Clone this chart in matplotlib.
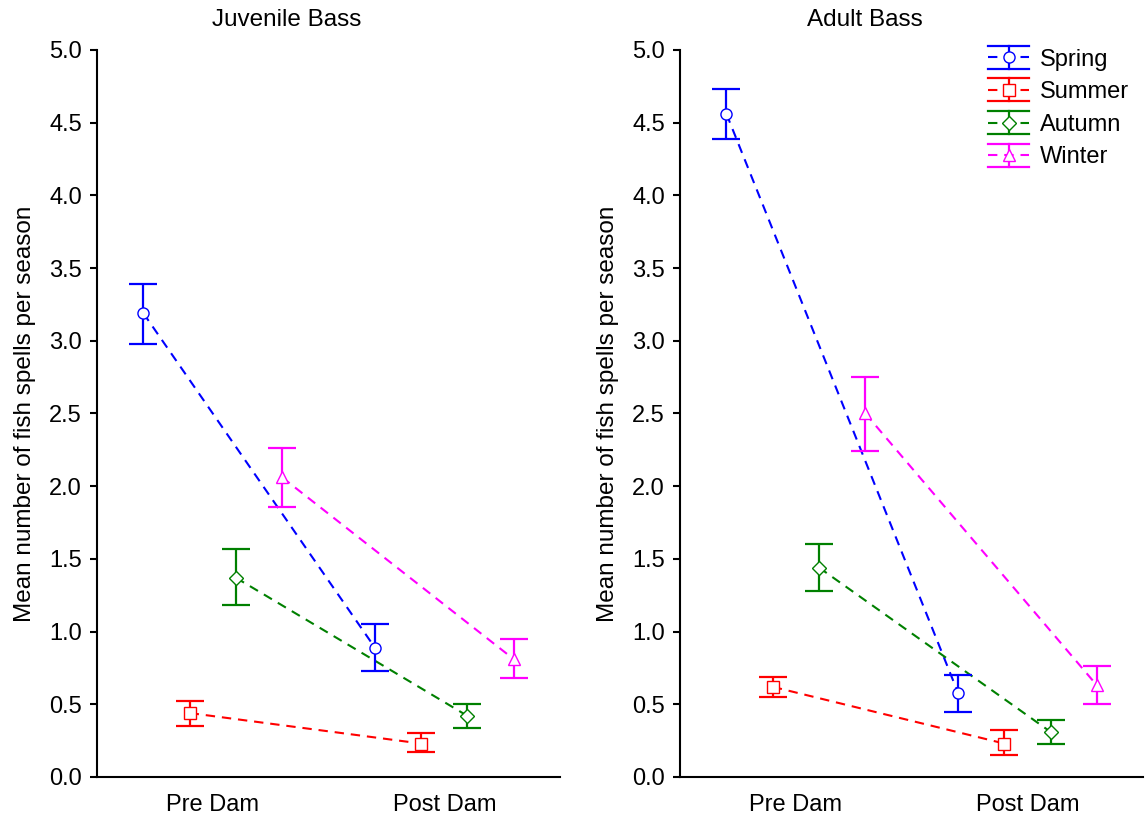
"""Mean number of fish spells per season, pre vs post dam, juvenile and adult bass."""
import matplotlib
matplotlib.use("Agg")
import matplotlib.pyplot as plt
from matplotlib.legend_handler import HandlerBase
from matplotlib.lines import Line2D
import numpy as np

plt.rcParams["font.family"] = ["Liberation Sans", "DejaVu Sans"]

periods = ["Pre Dam", "Post Dam"]
seasons = ["Spring", "Summer", "Autumn", "Winter"]
colors = ["#0000FF", "#FF0000", "#008000", "#FF00FF"]
markers = ["o", "s", "D", "^"]

# mean, lower and upper bound of error bars: [Pre, Post] per season
juv_mean = [[3.19, 0.89], [0.44, 0.23], [1.37, 0.42], [2.06, 0.81]]
juv_low = [[2.98, 0.73], [0.35, 0.17], [1.18, 0.34], [1.86, 0.68]]
juv_high = [[3.39, 1.05], [0.52, 0.30], [1.57, 0.50], [2.26, 0.95]]

adu_mean = [[4.56, 0.58], [0.62, 0.23], [1.44, 0.31], [2.50, 0.63]]
adu_low = [[4.39, 0.45], [0.55, 0.15], [1.28, 0.23], [2.24, 0.50]]
adu_high = [[4.73, 0.70], [0.69, 0.32], [1.60, 0.39], [2.75, 0.76]]

offsets = [-0.3, -0.1, 0.1, 0.3]
DASH = (0, (4.5, 3.3))


def msize(m):
    return 7 if m == "D" else 8


class ErrbarHandler(HandlerBase):
    """Legend key like the original: full-width caps, vertical bar, dashed line, open marker."""

    def create_artists(self, legend, orig, xdescent, ydescent, width, height,
                       fontsize, trans):
        c = orig.get_markeredgecolor()
        cy = height / 2 - ydescent
        half = 8.3
        x0, x1 = -xdescent, width - xdescent
        xm = (x0 + x1) / 2
        arts = [
            Line2D([x0, x1], [cy, cy], color=c, lw=1.5, ls=DASH),
            Line2D([x0, x1], [cy + half] * 2, color=c, lw=1.6),
            Line2D([x0, x1], [cy - half] * 2, color=c, lw=1.6),
            Line2D([xm, xm], [cy - half, cy + half], color=c, lw=1.6),
            Line2D([xm], [cy], ls="none", marker=orig.get_marker(),
                   ms=orig.get_markersize(), mfc="white", mec=c, mew=1.0),
        ]
        for a in arts:
            a.set_transform(trans)
        return arts


def draw_panel(ax, mean, low, high):
    base = np.arange(len(periods))
    for i, s in enumerate(seasons):
        x = base + offsets[i]
        m = np.array(mean[i])
        yerr = [m - np.array(low[i]), np.array(high[i]) - m]
        ax.plot(x, m, color=colors[i], lw=1.5, ls=DASH, zorder=2)
        ax.errorbar(x, m, yerr=yerr, fmt="none", ecolor=colors[i],
                    elinewidth=1.6, capsize=10, capthick=1.6, zorder=3)
        ax.plot(x, m, ls="none", color=colors[i], marker=markers[i],
                ms=msize(markers[i]), mfc="white", mec=colors[i], mew=1.0,
                zorder=4, label=s)
    ax.set_xlim(-0.5, 1.5)
    ax.set_ylim(0, 5)
    ax.set_xticks(base)
    ax.set_xticklabels(periods)
    ax.set_yticks(np.arange(0, 5.01, 0.5))
    ax.set_yticklabels([f"{v:.1f}" for v in np.arange(0, 5.01, 0.5)])
    ax.tick_params(axis="x", length=0, pad=12, labelsize=17)
    ax.tick_params(axis="y", direction="out", length=5, width=1.5, labelsize=17, pad=6)
    for side in ["top", "right"]:
        ax.spines[side].set_visible(False)
    for side in ["left", "bottom"]:
        ax.spines[side].set_linewidth(1.5)
    ax.set_ylabel("Mean number of fish spells per season", fontsize=17.5)
    ax.yaxis.set_label_coords(-0.132, 0.5)


fig = plt.figure(figsize=(11.47, 8.21), dpi=100)
ax1 = fig.add_axes([0.0846, 0.0536, 0.4037, 0.8855])
ax2 = fig.add_axes([0.593, 0.0536, 0.4037, 0.8855])

draw_panel(ax1, juv_mean, juv_low, juv_high)
draw_panel(ax2, adu_mean, adu_low, adu_high)

fig.text(0.25, 0.976, "Juvenile Bass", ha="center", va="center", fontsize=17.5)
fig.text(0.754, 0.976, "Adult Bass", ha="center", va="center", fontsize=17.5)

handles, labels = ax2.get_legend_handles_labels()
ax2.legend(handles, labels, loc="upper right", bbox_to_anchor=(0.99, 1.015),
           frameon=False, fontsize=17, handlelength=1.75, handletextpad=0.45,
           labelspacing=0.45, borderaxespad=0,
           handler_map={Line2D: ErrbarHandler()})

fig.savefig("out.png", dpi=100)
